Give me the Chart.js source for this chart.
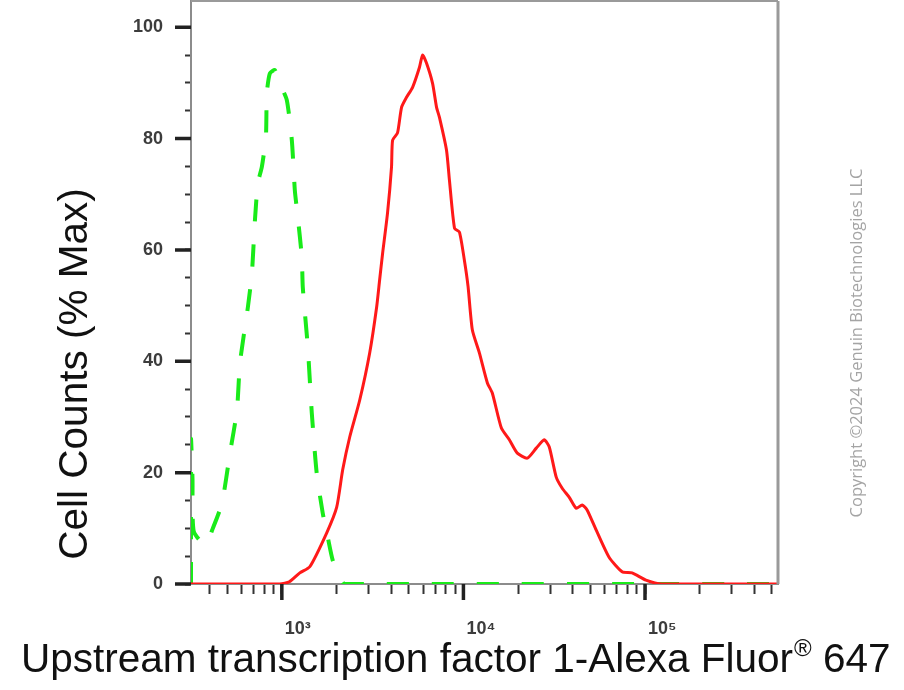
<!DOCTYPE html>
<html>
<head>
<meta charset="utf-8">
<script src="https://cdn.jsdelivr.net/npm/chart.js@4.4.1/dist/chart.umd.min.js"></script>
<style>
  html, body { margin: 0; padding: 0; background: #fff; }
  #wrap { width: 904px; height: 690px; }
</style>
</head>
<body>
<div id="wrap"><canvas id="myChart" width="904" height="690"></canvas></div>
<script>
// isotype control (green dashed): fluorescence vs % of max
const isoX = [316, 316, 322, 327, 378, 418, 468, 518, 566, 588, 650, 684, 711, 738, 776, 817, 827, 859, 916, 975,
  1065, 1135, 1179, 1224, 1288, 1304, 1390, 1462, 1556, 1680, 1790, 1905, 2083, 2219, 540000];
const isoY = [0, 26, 19, 9.5, 7.0, 10.1, 14.5, 23.5, 31.2, 39.7, 49.7, 55.8, 65.4, 72.0, 74.9, 80.3, 88.2, 91.7, 92.3, 89.9,
  86.9, 79.7, 70.7, 65.9, 58.7, 53.3, 42.5, 30.7, 19.9, 12.7, 8.4, 4.3, 1.3, 0, 0];

// stained sample (red)
const stainX = [316, 975, 1100, 1256, 1425, 1767, 2005, 2163, 2365, 2683, 3046, 3326, 3455, 3589, 3819, 4018, 4073, 4335,
  4563, 4860, 5248, 5728, 5957, 6266, 6761, 7112, 7379, 8070, 8375, 8931, 9506, 10116, 10600, 11200, 12240, 13550,
  14420, 16180, 17900, 19800, 22480, 25180, 27860, 29700, 32440, 34990, 38200, 41780, 45080, 47980, 53800, 63390,
  74820, 84920, 101200, 123900, 540000];
const stainY = [0, 0, 0.4, 2.0, 3.1, 9.2, 13.8, 20.5, 26.4, 33.0, 41.5, 49.7, 54.6, 59.4, 66.6, 74.9, 79.7, 81.0,
  85.6, 87.4, 89.2, 92.8, 95.0, 93.5, 89.9, 85.6, 83.8, 77.9, 72.5, 63.9, 63.2, 58.2, 53.5, 45.6, 41.5, 36.1,
  34.3, 28.0, 25.9, 23.5, 22.6, 24.4, 25.9, 24.6, 19.2, 17.2, 15.6, 13.6, 14.2, 13.3, 9.7, 4.8,
  2.2, 2.0, 0.7, 0, 0];

// axis ticks
const xTickValues = [400, 500, 600, 700, 800, 900, 1000, 2000, 3000, 4000, 5000, 6000, 7000, 8000, 9000,
  10000, 20000, 30000, 40000, 50000, 60000, 70000, 80000, 90000, 100000, 200000, 300000, 400000, 500000];
const xTickLabels = { 1000: '10³', 10000: '10⁴', 100000: '10⁵' };
const yLabelled = [0, 20, 40, 60, 80, 100];

const xTitle = 'Upstream transcription factor 1-Alexa Fluor';
const xTitleEnd = ' 647';
const yTitle = 'Cell Counts (% Max)';
const copyright = 'Copyright ©2024 Genuin Biotechnologies LLC';

const FONT = '"Liberation Sans", Arial, sans-serif';

const toPoints = (xs, ys) => xs.map((x, i) => ({ x: x, y: ys[i] }));

// long thick ticks on the decades / every 20%
const majorTicks = {
  id: 'majorTicks',
  afterDraw(chart) {
    const { ctx, chartArea, scales } = chart;
    ctx.save();
    ctx.strokeStyle = '#222';
    ctx.lineWidth = 3.5;
    ctx.beginPath();
    scales.x.ticks.forEach(t => {
      if (xTickLabels[t.value]) {
        const px = scales.x.getPixelForValue(t.value);
        ctx.moveTo(px, chartArea.bottom);
        ctx.lineTo(px, chartArea.bottom + 16);
      }
    });
    scales.y.ticks.forEach(t => {
      if (yLabelled.includes(t.value)) {
        const py = scales.y.getPixelForValue(t.value);
        ctx.moveTo(chartArea.left - 16, py);
        ctx.lineTo(chartArea.left, py);
      }
    });
    ctx.stroke();
    ctx.restore();
  }
};

// plot frame, axis titles and side note
const frameAndText = {
  id: 'frameAndText',
  afterDraw(chart) {
    const { ctx, chartArea } = chart;
    ctx.save();
    ctx.strokeStyle = '#9a9a9a';
    ctx.lineWidth = 2;
    ctx.beginPath();
    ctx.moveTo(chartArea.left, chartArea.top);
    ctx.lineTo(chartArea.right, chartArea.top);
    ctx.stroke();
    ctx.lineWidth = 3;
    ctx.beginPath();
    ctx.moveTo(chartArea.right, chartArea.top);
    ctx.lineTo(chartArea.right, chartArea.bottom);
    ctx.stroke();

    ctx.fillStyle = '#111';
    ctx.textBaseline = 'alphabetic';
    ctx.textAlign = 'left';
    ctx.font = '40.5px ' + FONT;
    let tx = 21;
    ctx.fillText(xTitle, tx, 672);
    tx += ctx.measureText(xTitle).width + 1;
    ctx.font = '24px ' + FONT;
    ctx.fillText('®', tx, 656);
    tx += ctx.measureText('®').width;
    ctx.font = '40.5px ' + FONT;
    ctx.fillText(xTitleEnd, tx, 672);

    ctx.save();
    ctx.translate(87, 374);
    ctx.rotate(-Math.PI / 2);
    ctx.textAlign = 'center';
    ctx.fillText(yTitle, 0, 0);
    ctx.restore();

    ctx.save();
    ctx.translate(862, 343);
    ctx.rotate(-Math.PI / 2);
    ctx.textAlign = 'center';
    ctx.font = '16.5px "Open Sans", sans-serif';
    ctx.fillStyle = '#a4a4a4';
    ctx.fillText(copyright, 0, 0);
    ctx.restore();
    ctx.restore();
  }
};

const ctx = document.getElementById('myChart');

new Chart(ctx, {
  type: 'line',
  data: {
    datasets: [
      {
        label: 'Upstream transcription factor 1',
        data: toPoints(stainX, stainY),
        borderColor: 'rgb(255, 25, 25)',
        borderWidth: 3,
        pointRadius: 0,
        tension: 0.2
      },
      {
        label: 'Isotype control',
        data: toPoints(isoX, isoY),
        borderColor: 'rgb(25, 235, 25)',
        borderWidth: 4,
        borderDash: [22, 23],
        pointRadius: 0,
        tension: 0.2
      }
    ]
  },
  options: {
    responsive: false,
    animation: false,
    layout: { padding: { top: 1, right: 126, bottom: 0, left: 0 } },
    plugins: {
      legend: { display: false },
      tooltip: { enabled: false }
    },
    scales: {
      x: {
        type: 'logarithmic',
        min: 316,
        max: 540000,
        afterBuildTicks: s => { s.ticks = xTickValues.map(v => ({ value: v })); },
        afterFit: s => { s.height = 106; s.paddingLeft = 0; s.paddingRight = 0; },
        border: { color: '#8c8c8c', width: 2 },
        grid: { drawOnChartArea: false, tickLength: 10, tickWidth: 2, tickColor: '#333' },
        ticks: {
          autoSkip: false,
          maxRotation: 0,
          minRotation: 0,
          align: 'start',
          labelOffset: 3,
          padding: 24,
          color: '#3c3c3c',
          font: { family: FONT, size: 18, weight: 'bold' },
          callback: v => xTickLabels[v] || ''
        }
      },
      y: {
        type: 'linear',
        min: 0,
        max: 104.7,
        afterFit: s => { s.width = 191; s.paddingTop = 0; s.paddingBottom = 0; },
        border: { color: '#8c8c8c', width: 2 },
        grid: { drawOnChartArea: false, tickLength: 6, tickWidth: 2, tickColor: '#333' },
        ticks: {
          stepSize: 5,
          includeBounds: false,
          autoSkip: false,
          padding: 22,
          color: '#3c3c3c',
          font: { family: FONT, size: 18, weight: 'bold' },
          callback: v => yLabelled.includes(v) ? v : ''
        }
      }
    }
  },
  plugins: [majorTicks, frameAndText]
});
</script>
</body>
</html>
